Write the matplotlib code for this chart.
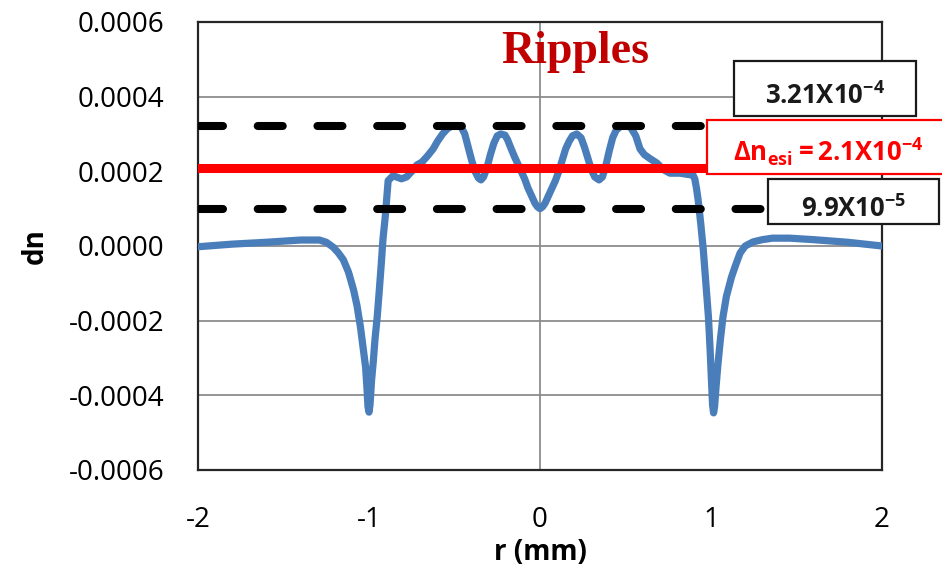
import numpy as np
import matplotlib
matplotlib.use('Agg')
from matplotlib import pyplot as plt
from matplotlib.patches import Rectangle
from matplotlib.ticker import FuncFormatter

plt.rcParams['font.family'] = ['Open Sans', 'DejaVu Sans']
plt.rcParams['mathtext.fontset'] = 'custom'
plt.rcParams['mathtext.rm'] = 'Open Sans'
plt.rcParams['mathtext.bf'] = 'Open Sans:bold'
plt.rcParams['lines.scale_dashes'] = False

# radial profile, dn in units of 1e-4
r = [-2.0, -1.8, -1.6, -1.4, -1.29, -1.25, -1.21, -1.18, -1.15, -1.12,
     -1.09, -1.07, -1.05, -1.035, -1.02, -1.012, -1.006, -1.0, -0.994,
     -0.985, -0.975, -0.965, -0.952, -0.94, -0.928, -0.918, -0.905, -0.895,
     -0.888, -0.86, -0.84, -0.81, -0.78, -0.75, -0.72, -0.69, -0.66, -0.625,
     -0.6, -0.57, -0.54, -0.51, -0.48, -0.46, -0.44, -0.42, -0.40, -0.38,
     -0.36, -0.345, -0.33, -0.31, -0.29, -0.27, -0.25, -0.23, -0.205, -0.19,
     -0.17, -0.15, -0.13, -0.11, -0.09, -0.07, -0.05, -0.03, -0.015, 0.0,
     0.015, 0.03, 0.05, 0.07, 0.09, 0.11, 0.13, 0.15, 0.17, 0.19, 0.215,
     0.24, 0.26, 0.28, 0.30, 0.32, 0.345, 0.365, 0.385, 0.405, 0.425, 0.445,
     0.47, 0.50, 0.53, 0.56, 0.585, 0.61, 0.64, 0.684, 0.72, 0.76, 0.82,
     0.86, 0.895, 0.905, 0.915, 0.925, 0.94, 0.955, 0.97, 0.985, 0.995,
     1.003, 1.009, 1.015, 1.021, 1.03, 1.04, 1.055, 1.07, 1.09, 1.12, 1.145,
     1.17, 1.2, 1.246, 1.3, 1.36, 1.46, 1.6, 1.8, 2.0]
dn_e4 = [-0.02, 0.05, 0.1, 0.16, 0.16, 0.1, -0.03, -0.18, -0.37, -0.7,
         -1.18, -1.6, -2.17, -2.7, -3.24, -3.8, -4.3, -4.45, -4.25,
         -3.6, -3.1, -2.5, -1.9, -1.2, -0.46, 0.2, 0.78, 1.35,
         1.75, 1.88, 1.85, 1.8, 1.85, 2.0, 2.17, 2.25, 2.4, 2.6,
         2.8, 3.0, 3.15, 3.22, 3.22, 3.18, 3.0, 2.65, 2.3, 2.0,
         1.82, 1.77, 1.85, 2.1, 2.45, 2.75, 2.95, 3.0, 2.97, 2.85,
         2.62, 2.4, 2.2, 2.0, 1.8, 1.55, 1.35, 1.15, 1.05, 1.0,
         1.05, 1.15, 1.35, 1.55, 1.75, 2.0, 2.3, 2.6, 2.8, 2.95, 3.0,
         2.9, 2.65, 2.35, 2.05, 1.85, 1.77, 1.85, 2.15, 2.55, 2.9, 3.1,
         3.2, 3.22, 3.18, 2.95, 2.6, 2.45, 2.35, 2.22, 2.05, 1.95, 1.95,
         1.92, 1.9, 1.8, 1.55, 1.23, 0.6, -0.1, -1.0, -1.9, -2.8,
         -3.6, -4.25, -4.47, -4.3, -3.75, -3.2, -2.5, -1.9, -1.35, -0.83,
         -0.5, -0.19, 0.0, 0.11, 0.17, 0.21, 0.21, 0.17, 0.1, 0.0]
dn = np.array(dn_e4) * 1e-4

dn_max = 3.21e-4
dn_min = 9.9e-5
dn_esi = 2.1e-4

yticks = [-0.0006, -0.0004, -0.0002, 0.0, 0.0002, 0.0004, 0.0006]
xticks = [-2, -1, 0, 1, 2]
xtick_labels = ['-2', '-1', '0', '1', '2']

fig = plt.figure(figsize=(9.42, 5.76), dpi=100)
ax = fig.add_axes([198 / 942, 1 - 470 / 576, 684 / 942, 448 / 576])

ax.set_xlim(-2, 2)
ax.set_ylim(-0.0006, 0.0006)
ax.set_yticks(yticks)
ax.set_xticks(xticks)
ax.set_xticklabels(xtick_labels)
ax.yaxis.set_major_formatter(FuncFormatter(
    lambda v, p: '0.0000' if abs(v) < 1e-9 else f'{v:.4f}'))
ax.tick_params(length=0, labelsize=20, colors='black')
ax.tick_params(axis='y', pad=24)
ax.tick_params(axis='x', pad=26)

ax.grid(axis='y', color='#8c8c8c', lw=1.3)
ax.axvline(0, color='#8c8c8c', lw=1.3, zorder=1)
ax.set_axisbelow(True)
for s in ax.spines.values():
    s.set_color('#262626')
    s.set_linewidth(1.6)

ax.plot(r, dn, color='#4a7ebb', lw=5.2, solid_joinstyle='round',
        solid_capstyle='round', zorder=3)
ax.axhline(dn_max, color='black', lw=5.8, dashes=(18, 25),
           dash_capstyle='round', zorder=4)
ax.axhline(dn_min, color='black', lw=5.8, dashes=(18, 25),
           dash_capstyle='round', zorder=4)
ax.axhline(dn_esi, color='#ff0000', lw=6.5, zorder=4)

ax.set_ylabel('dn', fontsize=20, fontweight='bold')
ax.yaxis.set_label_coords(-0.238, 0.5)
ax.set_xlabel('r (mm)', fontsize=20, fontweight='bold')
ax.xaxis.set_label_coords(0.5, -0.185)
ax.xaxis.label.set_va('center')
ax.yaxis.label.set_va('center')

fig.text(575 / 942, 1 - 52 / 576, 'Ripples', fontsize=33, fontweight='bold',
         family='Liberation Serif', color='#c00000', ha='center', va='center')


def value_box(x0, y0, x1, y1, base, label, color):
    # box drawn in figure pixels, measured from the top-left corner
    fig.patches.append(Rectangle((x0 / 942, 1 - y1 / 576), (x1 - x0) / 942,
                                 (y1 - y0) / 576, transform=fig.transFigure,
                                 facecolor='white', edgecolor=color, lw=1.6,
                                 zorder=10))
    fig.text((x0 + x1) / 2 / 942, 1 - base / 576, label, fontsize=18.5,
             color=color, ha='center', va='baseline', zorder=11)


value_box(734, 61, 916, 116, 104, r'$\mathbf{3.21X10}^{\mathbf{-4}}$',
          '#1a1a1a')
value_box(707, 120, 950, 174, 161,
          r'$\mathbf{Δn}_{\mathbf{esi}}\mathbf{=2.1X10}^{\mathbf{-4}}$',
          '#ff0000')
value_box(768, 179, 939, 224, 217, r'$\mathbf{9.9X10}^{\mathbf{-5}}$',
          '#1a1a1a')

fig.savefig('out.png', dpi=100)
